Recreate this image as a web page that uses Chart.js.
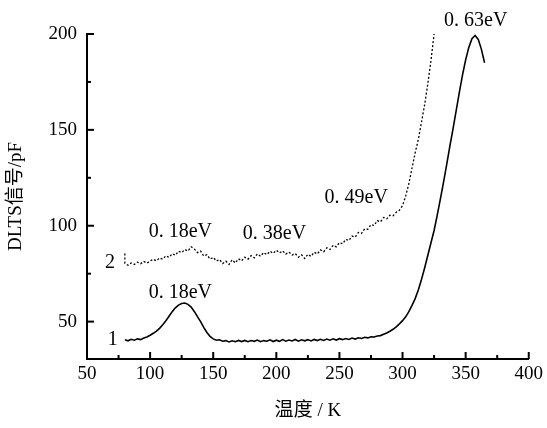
<!DOCTYPE html>
<html>
<head>
<meta charset="utf-8">
<script src="https://cdn.jsdelivr.net/npm/chart.js@4.4.1/dist/chart.umd.min.js"></script>
<style>
    body { margin: 0; background: #fff; }
    #caja { width: 547px; height: 428px; position: relative; }
</style>
</head>
<body>
<div id="caja"><canvas id="dlts"></canvas></div>
<script>
// curva 1 (linea continua)
const temps1 = [80, 82.5, 85, 87.5, 90, 92.5, 95, 97.5, 100, 102.5, 105, 107.5, 110, 112.5, 115, 117.5, 120, 122.5, 125, 127.5,
    130, 132.5, 135, 137.5, 140, 142.5, 145, 147.5, 150, 152.5, 155, 157.5, 160, 162.5, 165, 167.5, 170, 172.5, 175, 177.5,
    180, 182.5, 185, 187.5, 190, 192.5, 195, 197.5, 200, 202.5, 205, 207.5, 210, 212.5, 215, 217.5, 220, 222.5, 225, 227.5,
    230, 232.5, 235, 237.5, 240, 242.5, 245, 247.5, 250, 252.5, 255, 257.5, 260, 262.5, 265, 267.5, 270, 272.5, 275, 277.5,
    280, 282.5, 285, 287.5, 290, 292.5, 295, 297.5, 300, 302.5, 305, 307.5, 310, 312.5, 315, 317.5, 320, 322.5, 325, 327.5,
    330, 332.5, 335, 337.5, 340, 342.5, 345, 347.5, 350, 352.5, 355, 357.5, 360, 362.5, 365];
const signal1 = [40.5, 40.0, 40.8, 40.3, 41.0, 40.6, 41.4, 42.0, 42.9, 43.9, 45.0, 46.5, 48.4, 50.5, 52.8, 55.2, 57.2, 58.6, 59.4, 59.7,
    59.0, 57.6, 55.3, 52.6, 50.0, 47.0, 44.3, 42.3, 41.0, 40.3, 40.5, 39.8, 40.1, 39.4, 40.0, 39.5, 40.2, 39.6, 40.2, 39.5,
    40.1, 39.7, 40.4, 39.5, 40.1, 39.8, 40.5, 39.6, 40.3, 39.7, 40.6, 39.8, 40.4, 39.9, 40.7, 39.8, 40.5, 40.0, 40.6, 39.9,
    40.7, 40.1, 40.8, 40.2, 40.9, 40.3, 41.0, 40.4, 41.1, 40.6, 41.2, 40.7, 41.4, 40.9, 41.6, 41.2, 41.8, 41.5, 42.1, 42.0,
    42.5, 42.7, 43.4, 44.1, 45.0, 46.0, 47.3, 48.8, 50.5, 52.5, 55.2, 58.5, 62.0, 66.5, 72.0, 78.0, 84.5, 91.0, 97.5, 105.5,
    114.0, 122.8, 132.0, 141.5, 150.5, 160.0, 169.5, 178.5, 186.5, 193.0, 197.5, 199.2, 197.2, 192.0, 185.0];

// curva 2 (linea punteada)
const temps2 = [80, 80, 82.5, 85, 87.5, 90, 92.5, 95, 97.5, 100, 102.5, 105, 107.5, 110, 112.5, 115, 117.5, 120, 122.5, 125, 127.5,
    130, 132.5, 135, 137.5, 140, 142.5, 145, 147.5, 150, 152.5, 155, 157.5, 160, 162.5, 165, 167.5, 170, 172.5, 175, 177.5,
    180, 182.5, 185, 187.5, 190, 192.5, 195, 197.5, 200, 202.5, 205, 207.5, 210, 212.5, 215, 217.5, 220, 222.5, 225, 227.5,
    230, 232.5, 235, 237.5, 240, 242.5, 245, 247.5, 250, 252.5, 255, 257.5, 260, 262.5, 265, 267.5, 270, 272.5, 275, 277.5,
    280, 282.5, 285, 287.5, 290, 292.5, 295, 297.5, 300, 302.5, 305, 307.5, 310, 312.5, 315, 317.5, 320, 322.5, 325];
const signal2 = [85.5, 80.5, 79.4, 80.6, 79.8, 81.0, 80.2, 81.4, 80.5, 81.6, 82.5, 81.7, 83.2, 82.6, 84.3, 83.5, 85.4, 84.6, 86.7, 86.0, 87.6,
    86.8, 89.0, 87.9, 86.0, 86.8, 84.2, 84.9, 82.6, 83.5, 81.6, 82.4, 80.3, 81.5, 79.8, 82.2, 80.6, 82.8, 81.7, 83.6, 82.5,
    84.4, 83.2, 85.3, 84.1, 86.0, 84.9, 86.7, 85.6, 87.2, 85.8, 86.9, 85.2, 86.3, 84.7, 85.5, 83.6, 84.8, 82.9, 85.1, 84.0,
    86.2, 85.3, 87.4, 86.4, 88.5, 87.6, 89.8, 89.0, 91.2, 90.6, 92.9, 92.3, 94.6, 94.1, 96.5, 96.0, 98.4, 98.2, 100.6, 100.1,
    102.7, 102.0, 104.3, 103.6, 105.5, 105.2, 107.0, 108.1, 110.5, 115.5, 122.0, 130.0, 138.0, 145.0, 154.0, 163.0, 174.0, 186.0, 200.0];

// etiquetas dentro del grafico (texto, temperatura, senal)
const etiquetas = [
    ["0. 63eV", 358, 207],
    ["0. 18eV", 124, 96.7],
    ["0. 18eV", 124, 65],
    ["0. 38eV", 198.5, 95.7],
    ["0. 49eV", 263.3, 114.4],
    ["2", 68.2, 80.6],
    ["1", 70.5, 40.5]
];

const serif = "'Liberation Serif', 'Noto Sans CJK SC', serif";

const marcasTicks = {
    id: "marcasTicks",
    afterDraw(chart) {
        const ctx = chart.ctx;
        const x = chart.scales.x;
        const y = chart.scales.y;
        ctx.save();
        ctx.strokeStyle = "#000";
        ctx.lineWidth = 2;
        x.ticks.forEach(t => {
            if (t.value % 25 !== 0 || t.value === 50) return;
            const px = x.getPixelForValue(t.value);
            const largo = t.value % 50 === 0 ? 7 : 4;
            ctx.beginPath();
            ctx.moveTo(px, y.bottom);
            ctx.lineTo(px, y.bottom - largo);
            ctx.stroke();
        });
        y.ticks.forEach(t => {
            if (t.value % 25 !== 0) return;
            const py = y.getPixelForValue(t.value);
            const largo = t.value % 50 === 0 ? 7 : 4;
            ctx.beginPath();
            ctx.moveTo(x.left, py);
            ctx.lineTo(x.left + largo, py);
            ctx.stroke();
        });
        ctx.fillStyle = "#000";
        ctx.font = "20px " + serif;
        ctx.textAlign = "center";
        ctx.textBaseline = "middle";
        etiquetas.forEach(e => {
            ctx.fillText(e[0], x.getPixelForValue(e[1]), y.getPixelForValue(e[2]));
        });
        ctx.restore();
    }
};

const ctx = document.getElementById("dlts").getContext("2d");
const chart = new Chart(ctx, {
    type: "line",
    data: {
        datasets: [{
            label: "1",
            data: temps1.map((t, i) => ({ x: t, y: signal1[i] })),
            borderColor: "#000",
            borderWidth: 1.6,
            pointRadius: 0,
            fill: false
        }, {
            label: "2",
            data: temps2.map((t, i) => ({ x: t, y: signal2[i] })),
            borderColor: "#000",
            borderWidth: 1.3,
            borderDash: [2, 2],
            pointRadius: 0,
            fill: false
        }]
    },
    options: {
        responsive: true,
        maintainAspectRatio: false,
        animation: false,
        layout: { padding: { left: 0, right: 17, top: 34, bottom: 0 } },
        plugins: {
            legend: { display: false },
            tooltip: { enabled: false }
        },
        scales: {
            x: {
                type: "linear",
                min: 50,
                max: 400,
                grid: { display: false, drawTicks: false },
                border: { display: true, color: "#000", width: 2 },
                ticks: {
                    stepSize: 25,
                    padding: 4,
                    color: "#000",
                    maxRotation: 0,
                    autoSkip: false,
                    font: { family: serif, size: 19 },
                    callback: v => (v % 50 === 0 ? v : "")
                },
                title: {
                    display: true,
                    text: "温度 / K",
                    color: "#000",
                    font: { family: serif, size: 19 },
                    padding: { top: 0, bottom: 6 }
                },
                afterFit: scale => { scale.height = 69; }
            },
            y: {
                min: 30.5,
                max: 200,
                grid: { display: false, drawTicks: false },
                border: { display: true, color: "#000", width: 2 },
                ticks: {
                    stepSize: 25,
                    padding: 10,
                    color: "#000",
                    autoSkip: false,
                    font: { family: serif, size: 19 },
                    callback: v => (v % 50 === 0 ? v : "")
                },
                title: {
                    display: true,
                    text: "DLTS信号/pF",
                    color: "#000",
                    font: { family: serif, size: 19 },
                    padding: { top: 5, bottom: 0 }
                },
                afterFit: scale => { scale.width = 87; }
            }
        }
    },
    plugins: [marcasTicks]
});
</script>
</body>
</html>
